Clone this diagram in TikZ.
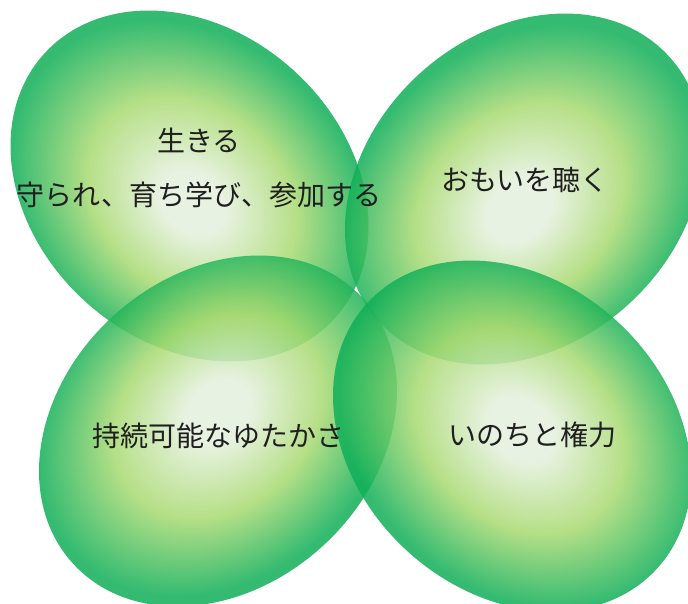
\documentclass[tikz,border=0pt]{standalone}
\usepackage{fontspec}
\newfontfamily\jp{Noto Sans CJK JP}
\definecolor{leafcore}{HTML}{E4F0DD}
\definecolor{leafmid}{HTML}{A9DA72}
\definecolor{leafedge}{HTML}{10AF58}
\pgfdeclareradialshading{leafTL}{\pgfpoint{1.9bp}{-1.8bp}}{color(0bp)=(leafcore); color(4.5bp)=(leafcore); color(14.5bp)=(leafmid); color(25bp)=(leafedge); color(50bp)=(leafedge)}
\pgfdeclareradialshading{leafTR}{\pgfpoint{-2.5bp}{-2bp}}{color(0bp)=(leafcore); color(4.5bp)=(leafcore); color(14.5bp)=(leafmid); color(25bp)=(leafedge); color(50bp)=(leafedge)}
\pgfdeclareradialshading{leafBL}{\pgfpoint{1.8bp}{2.5bp}}{color(0bp)=(leafcore); color(4.5bp)=(leafcore); color(14.5bp)=(leafmid); color(25bp)=(leafedge); color(50bp)=(leafedge)}
\pgfdeclareradialshading{leafBR}{\pgfpoint{0.3bp}{2bp}}{color(0bp)=(leafcore); color(4.5bp)=(leafcore); color(14.5bp)=(leafmid); color(25bp)=(leafedge); color(50bp)=(leafedge)}
\tikzset{
  leaf/.style={opacity=0.85},
  label/.style={font=\jp\fontsize{28}{32}\selectfont, text=black!88, inner sep=0pt, align=center}
}
\begin{document}
\begin{tikzpicture}[x=1pt,y=1pt]
\useasboundingbox (0,0) rectangle (688,603);
\begin{scope}[transform canvas={shift={(189.5,417)},rotate=-42.5,xscale=3.93,yscale=3.112}]
  \shade[leaf,shading=leafTL] (0,0) circle (50);
\end{scope}
\begin{scope}[transform canvas={shift={(524,414)},rotate=42.5,xscale=3.93,yscale=3.112}]
  \shade[leaf,shading=leafTR] (0,0) circle (50);
\end{scope}
\begin{scope}[transform canvas={shift={(218,172)},rotate=42.5,xscale=3.93,yscale=3.112}]
  \shade[leaf,shading=leafBL] (0,0) circle (50);
\end{scope}
\begin{scope}[transform canvas={shift={(512,167)},rotate=-42.5,xscale=3.93,yscale=3.112}]
  \shade[leaf,shading=leafBR] (0,0) circle (50);
\end{scope}
\node[label] (t1) at (199,463) {生きる};
\node[label] (t2) at (199,408) {守られ、育ち学び、参加する};
\node[label] (t3) at (525,423) {おもいを聴く};
\node[label] (t4) at (218,167) {持続可能なゆたかさ};
\node[label] (t5) at (532,168) {いのちと権力};
\end{tikzpicture}
\end{document}
